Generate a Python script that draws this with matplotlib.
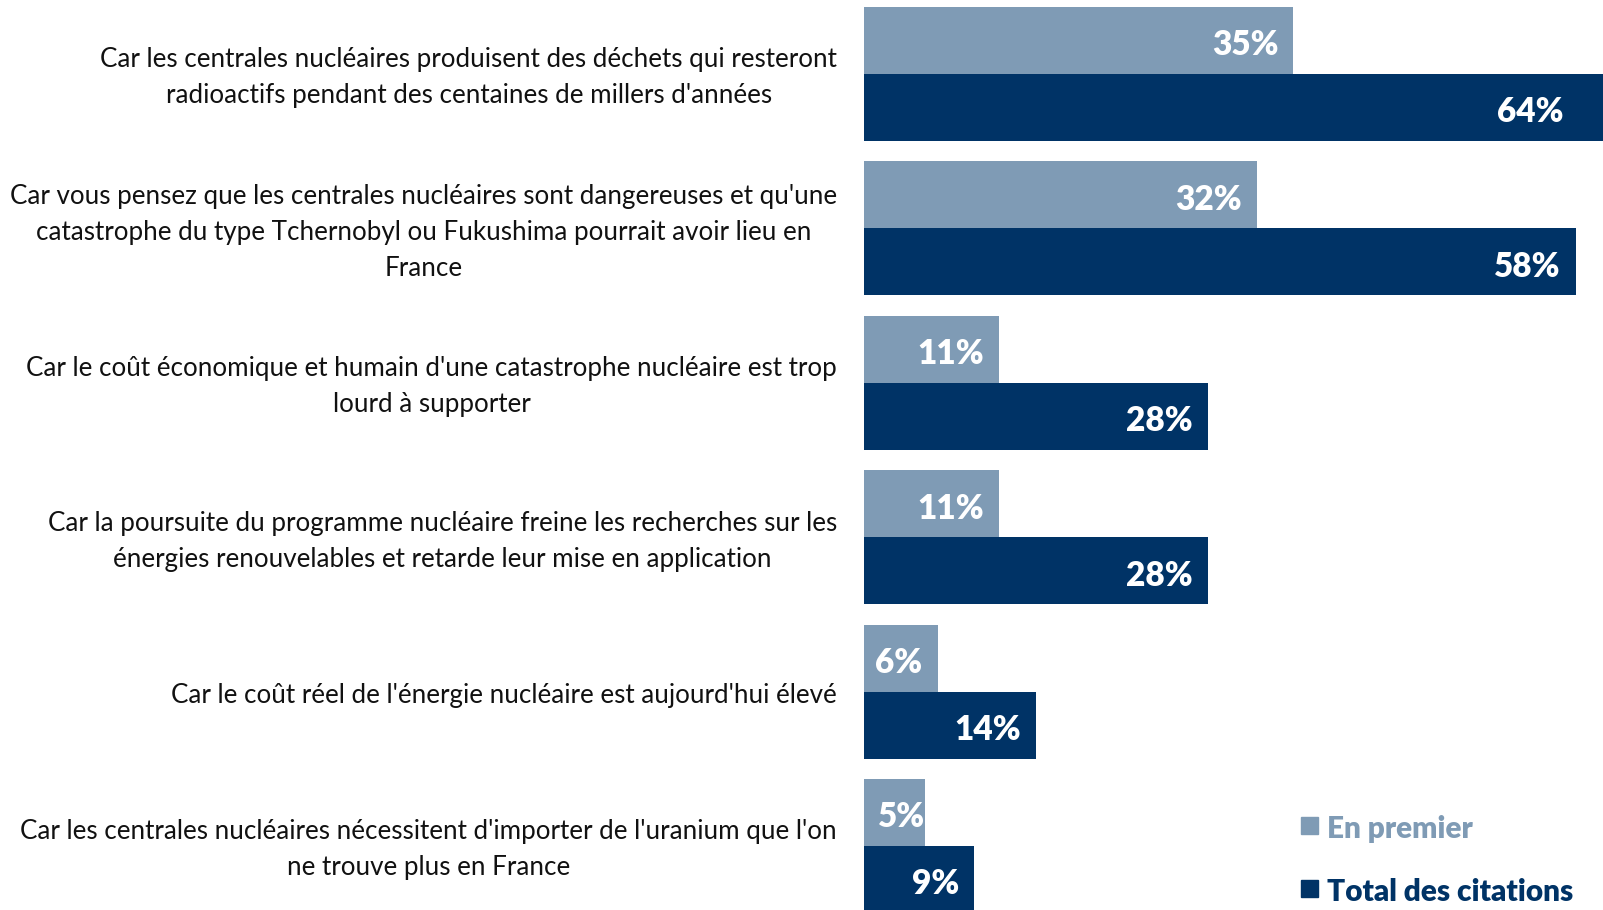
import matplotlib
matplotlib.use("Agg")
from matplotlib import pyplot as plt
from matplotlib.patches import Rectangle

# data
categories = [
    "Car les centrales nucléaires produisent des déchets qui resteront\nradioactifs pendant des centaines de millers d'années",
    "Car vous pensez que les centrales nucléaires sont dangereuses et qu'une\ncatastrophe du type Tchernobyl ou Fukushima pourrait avoir lieu en\nFrance",
    "Car le coût économique et humain d'une catastrophe nucléaire est trop\nlourd à supporter",
    "Car la poursuite du programme nucléaire freine les recherches sur les\nénergies renouvelables et retarde leur mise en application",
    "Car le coût réel de l'énergie nucléaire est aujourd'hui élevé",
    "Car les centrales nucléaires nécessitent d'importer de l'uranium que l'on\nne trouve plus en France",
]
en_premier = [35, 32, 11, 11, 6, 5]
total_citations = [64, 58, 28, 28, 14, 9]
series_names = ["En premier", "Total des citations"]

LIGHT = "#7F9BB5"
DARK = "#003366"
FONT = "Lato"

W, H = 1603, 910
fig = plt.figure(figsize=(W / 100, H / 100), dpi=100)
ax_left = 864 / W
ax = fig.add_axes([ax_left, 0, 1 - ax_left, 1])

pitch = 154.4
bar_h = 67 / pitch
px_per_pct = 12.27
xmax = (W - 864) / px_per_pct

for i, (a, b) in enumerate(zip(en_premier, total_citations)):
    ax.barh(i - bar_h / 2, a, height=bar_h, color=LIGHT, align="center")
    ax.barh(i + bar_h / 2, b, height=bar_h, color=DARK, align="center")
    for v, yy in ((a, i - bar_h / 2), (b, i + bar_h / 2)):
        if v > xmax:
            x, off = xmax, -39
        elif v * px_per_pct < 70:
            x, off = v, 0  # short bar: label flush with bar end
        else:
            x, off = v, -15
        ax.annotate(f"{v}%", (x, yy), xytext=(off * 0.72, -5 * 0.72), textcoords="offset points",
                    ha="right", va="center", color="white", fontsize=24,
                    fontweight="heavy", family=FONT, annotation_clip=False)

ax.set_xlim(0, xmax)
ax.set_ylim(5 + (H - 846) / pitch, -74 / pitch)
ax.axis("off")

# category labels
for i, txt in enumerate(categories):
    fig.text(837 / W, 1 - (78 + i * pitch) / H, txt, ha="right", va="center",
             multialignment="center", fontsize=18.7, family=FONT, color="#111111",
             linespacing=1.55)

# legend
for name, col, yc in ((series_names[0], LIGHT, 826), (series_names[1], DARK, 889)):
    fig.patches.append(Rectangle((1301 / W, 1 - (yc + 8) / H), 17 / W, 17 / H,
                                 transform=fig.transFigure, color=col))
    fig.text(1327 / W, 1 - (yc + 3) / H, name, ha="left", va="center", color=col,
             fontsize=21.4, fontweight="heavy", family=FONT)

fig.savefig("out.png", dpi=100)
